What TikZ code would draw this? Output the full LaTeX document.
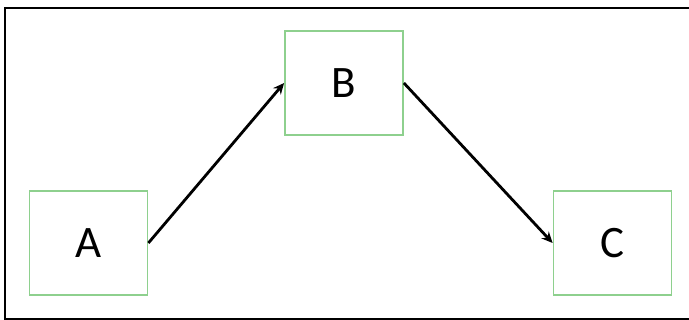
\documentclass[tikz,border=0pt]{standalone}
\usepackage{fontspec}
\setmainfont{Carlito}
\usetikzlibrary{arrows.meta}
\definecolor{boxgreen}{HTML}{8ED08E}
\begin{document}
\begin{tikzpicture}[x=1pt,y=-1pt,
  box/.style={draw=boxgreen,line width=1.8pt,minimum width=118pt,minimum height=104pt,inner sep=0pt,font=\fontsize{45}{50}\selectfont},
  conn/.style={line width=2.8pt,-{Stealth[length=11pt,width=10pt]}}]
\useasboundingbox (0,0) rectangle (689,320);
\draw[line width=2.2pt,line cap=rect] (689,8) -- (5,8) -- (5,319) -- (689,319);
\node[box] (A) at (88.5,243) {A};
\node[box] (B) at (344,83) {B};
\node[box] (C) at (612.5,243) {C};
\draw[conn] (A.east) -- (B.west);
\draw[conn] (B.east) -- (C.west);
\end{tikzpicture}
\end{document}
